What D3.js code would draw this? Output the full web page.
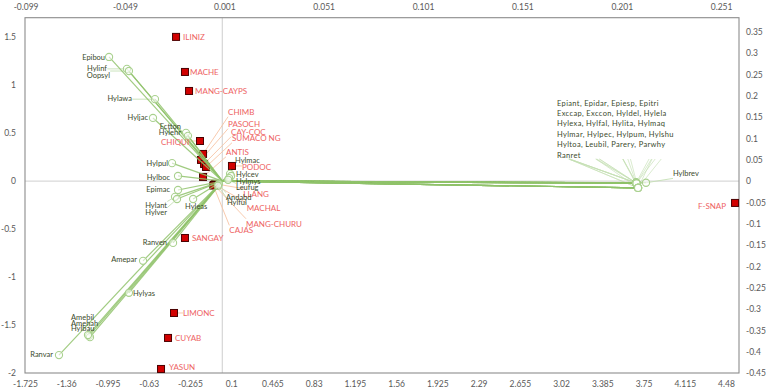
<!DOCTYPE html>
<html><head><meta charset="utf-8">
<script src="https://cdn.jsdelivr.net/npm/d3@7"></script>
<style>body{margin:0;background:#fff}svg{display:block;font-family:Lato,'Open Sans',sans-serif}</style>
</head><body><svg id="c" width="772" height="390"></svg>
<script>
// ---------- tick labels ----------
const bottomTicks = [-1.725,-1.36,-0.995,-0.63,-0.265,0.1,0.465,0.83,1.195,1.56,1.925,2.29,2.655,3.02,3.385,3.75,4.115,4.48];
const topTicks = [-0.099,-0.049,0.001,0.051,0.101,0.151,0.201,0.251];
const leftTicks = [-2,-1.5,-1,-0.5,0,0.5,1,1.5];
const rightTicks = [-0.45,-0.4,-0.35,-0.3,-0.25,-0.2,-0.15,-0.1,-0.05,0,0.05,0.1,0.15,0.2,0.25,0.3,0.35];

// ---------- sites (bottom / left axes) ----------
const siteNames = ["ILINIZ","MACHE","MANG-CAYPS","CHIQUI","CHIMB","PASOCH","CAY-COC","SUMACO NG","ANTIS","PODOC","LLANG","MACHAL","MANG-CHURU","CAJAS","SANGAY","LIMONC","CUYAB","YASUN","F-SNAP"];
const siteX = [-0.388,-0.309,-0.273,-0.176,-0.149,-0.167,-0.140,-0.123,-0.149,0.107,-0.040,-0.046,-0.052,-0.058,-0.309,-0.406,-0.459,-0.521,4.560];
const siteY = [1.50,1.135,0.937,0.416,0.281,0.219,0.177,0.146,0.042,0.156,-0.030,-0.036,-0.042,-0.048,-0.594,-1.375,-1.635,-1.958,-0.229];

// ---------- species (top / right axes) ----------
const speciesNames = ["Epibou","Hylinf","Oopsyl","Hylawa","Hyljac","Ectton","Hylehr","Hylpul","Hylboc","Epimac","Hylant","Hylver","Hyleas","Ranven","Amepar","Hylyas","Amebil","Amehah","Hylbau","Ranvar","Hylmac","Hylcev","Hylmys","Leufug","Andabd","Hylful","Hylbrev",
 "Epiant","Epidar","Epiesp","Epitri","Exccap","Exccon","Hyldel","Hylela","Hylexa","Hylfal","Hylita","Hylmaq","Hylmar","Hylpec","Hylpum","Hylshu","Hyltoa","Leubil","Parery","Parwhy","Ranret"];
const speciesX = [-0.0570,-0.0480,-0.0470,-0.0339,-0.0349,-0.0183,-0.0173,-0.0253,-0.0223,-0.0223,-0.0238,-0.0228,-0.0147,-0.0248,-0.0399,-0.0470,-0.0671,-0.0666,-0.0676,-0.0822,0.0039,0.0044,0.0034,0.0029,-0.0017,-0.0022,0.2132,
 0.2082,0.2082,0.2082,0.2082,0.2082,0.2082,0.2082,0.2084,0.2084,0.2084,0.2084,0.2084,0.2084,0.2084,0.2092,0.2092,0.2092,0.2092,0.2092,0.2092,0.2092];
const speciesY = [0.291,0.263,0.258,0.192,0.148,0.113,0.106,0.042,0.012,-0.021,-0.037,-0.042,-0.042,-0.145,-0.187,-0.262,-0.363,-0.366,-0.361,-0.408,0.017,0.012,0.007,0.003,-0.007,-0.011,-0.004,
 -0.004,-0.004,-0.004,-0.004,-0.004,-0.004,-0.004,-0.005,-0.005,-0.005,-0.005,-0.005,-0.005,-0.005,-0.016,-0.016,-0.016,-0.016,-0.016,-0.016,-0.016];

// ---------- label layout (pixel offsets) ----------
const siteLabelOffset = {"ILINIZ":[7,0],"MACHE":[5,0],"MANG-CAYPS":[6,0],"CHIQUI":[-39,1],"CHIMB":[25,-42],"PASOCH":[27,-36],"CAY-COC":[27,-32],"SUMACO NG":[26,-29],"ANTIS":[23,-25],"PODOC":[10,1],"LLANG":[28,10],"MACHAL":[32,24],"MANG-CHURU":[32,39],"CAJAS":[16,45],"SANGAY":[7,0],"LIMONC":[9,0],"CUYAB":[7,0],"YASUN":[8,-2],"F-SNAP":[-37,3]};
const speciesLabelOffset = {"Epibou":[-4,0,"end"],"Hylinf":[-20,-1,"end"],"Oopsyl":[-19,4,"end"],"Hylawa":[-23,-1,"end"],"Hyljac":[-5,-1,"end"],"Ectton":[-5,-6,"end"],"Hylehr":[-7,-3,"end"],"Hylpul":[-4,0,"end"],"Hylboc":[-8,1,"end"],"Epimac":[-8,-1,"end"],"Hylant":[-8,9,"end"],"Hylver":[-10,13,"end"],"Hyleas":[-8,7,"start"],"Ranven":[-6,-1,"end"],"Amepar":[-6,-1,"end"],"Hylyas":[4,1,"start"],"Amebil":[-18,-19,"start"],"Amehah":[-19,-14,"start"],"Hylbau":[-17,-7,"start"],"Ranvar":[-6,-1,"end"],"Hylmac":[5,-13,"start"],"Hylcev":[5,-2,"start"],"Hylmys":[7,3,"start"],"Leufug":[8,8,"start"],"Andabd":[7,13,"start"],"Hylful":[9,17,"start"],"Hylbrev":[27,-9,"start"]};
const blockOrigin = [557, 103], blockRowGap = 10.4, blockPerRow = 4;

// ---------- scales ----------
const L = 25, R = 739, T = 17.7, B = 373;
const xB = d3.scaleLinear([-1.725, 4.595], [L, R]);
const yL = d3.scaleLinear([-2, 1.7], [B, T]);
const xT = d3.scaleLinear([-0.0993, 0.26], [L, R]);
const yR = d3.scaleLinear([-0.45, 0.383], [B, T]);

const svg = d3.select("#c");
const fmt = d => String(d);
function styleAxis(g){ g.select(".domain").remove(); g.selectAll("text").attr("fill","#595959").attr("font-size",8.5).attr("font-family","Lato, 'Open Sans', sans-serif"); }
svg.append("g").attr("transform",`translate(0,${B})`).call(d3.axisBottom(xB).tickValues(bottomTicks).tickFormat(fmt).tickSize(0).tickPadding(8)).call(styleAxis);
svg.append("g").attr("transform",`translate(0,${T})`).call(d3.axisTop(xT).tickValues(topTicks).tickFormat(fmt).tickSize(0).tickPadding(8)).call(styleAxis);
svg.append("g").attr("transform",`translate(${L},0)`).call(d3.axisLeft(yL).tickValues(leftTicks).tickFormat(fmt).tickSize(0).tickPadding(9)).call(styleAxis);
svg.append("g").attr("transform",`translate(${R},0)`).call(d3.axisRight(yR).tickValues(rightTicks).tickFormat(fmt).tickSize(0).tickPadding(7)).call(styleAxis);

// zero lines
svg.append("line").attr("x1",xT(0)).attr("x2",xT(0)).attr("y1",T).attr("y2",B).attr("stroke","#d9d9d9").attr("stroke-width",1.3);
svg.append("line").attr("x1",L).attr("x2",R).attr("y1",yR(0)).attr("y2",yR(0)).attr("stroke","#d9d9d9").attr("stroke-width",1.3);
// frame
svg.append("rect").attr("x",L).attr("y",T).attr("width",R-L).attr("height",B-T).attr("fill","none").attr("stroke","#8c8c8c").attr("stroke-width",1.1);

const species = speciesNames.map((n,i)=>({name:n, px:xT(speciesX[i]), py:yR(speciesY[i])}));
const sites = siteNames.map((n,i)=>({name:n, px:xB(siteX[i]), py:yL(siteY[i])}));
const ox = xT(0), oy = yR(0);

const gLead = svg.append("g");
const gSites = svg.append("g");
// species vectors
svg.append("g").selectAll("line").data(species).join("line")
  .attr("x1",ox).attr("y1",oy).attr("x2",d=>d.px).attr("y2",d=>d.py)
  .attr("stroke","#8fc26a").attr("stroke-width",1.2).attr("stroke-opacity",0.85);

function nearest(b,p){ return [Math.max(b.x,Math.min(p[0],b.x+b.width)), Math.max(b.y,Math.min(p[1],b.y+b.height))]; }

// site squares
gSites.selectAll("rect").data(sites).join("rect")
  .attr("x",d=>d.px-3.5).attr("y",d=>d.py-3.5).attr("width",7).attr("height",7)
  .attr("fill","#d10000").attr("stroke","#4a0000").attr("stroke-width",1);

// species circles
svg.append("g").selectAll("circle").data(species).join("circle")
  .attr("cx",d=>d.px).attr("cy",d=>d.py).attr("r",3.6)
  .attr("fill","#ffffff").attr("fill-opacity",0.55).attr("stroke","#a9d18e").attr("stroke-width",1.1);

// site labels
const gSiteLab = svg.append("g").attr("font-size",8).attr("fill","#ee6363");
sites.forEach(s=>{
  const o = siteLabelOffset[s.name];
  const t = gSiteLab.append("text").attr("x",s.px+o[0]).attr("y",s.py+o[1]).attr("dy","0.35em").text(s.name);
  const b = t.node().getBBox();
  const q = nearest(b,[s.px,s.py]);
  if (Math.hypot(q[0]-s.px,q[1]-s.py) > 9)
    gLead.append("line").attr("x1",q[0]).attr("y1",q[1]).attr("x2",s.px).attr("y2",s.py).attr("stroke","#f7c4a5").attr("stroke-width",0.9);
});

// species labels
const gSpLab = svg.append("g").attr("font-size",7.5).attr("fill","#3b4a2c");
species.forEach(s=>{
  const o = speciesLabelOffset[s.name];
  if (!o) return;
  const t = gSpLab.append("text").attr("x",s.px+o[0]).attr("y",s.py+o[1]).attr("dy","0.35em").attr("text-anchor",o[2]).text(s.name);
  const b = t.node().getBBox();
  const q = nearest(b,[s.px,s.py]);
  if (Math.hypot(q[0]-s.px,q[1]-s.py) > 8)
    gLead.append("line").attr("x1",q[0]).attr("y1",q[1]).attr("x2",s.px).attr("y2",s.py).attr("stroke","#c5e0b4").attr("stroke-width",0.9);
});

// right-hand block of stacked labels
const block = species.filter(s=>!speciesLabelOffset[s.name]);
const rows = d3.range(Math.ceil(block.length/blockPerRow)).map(r=>block.slice(r*blockPerRow,(r+1)*blockPerRow));
const blockBottom = blockOrigin[1] + (rows.length-1)*blockRowGap + 4;
rows.forEach((row,r)=>{
  const str = row.map(s=>s.name).join(", ");
  const y = blockOrigin[1] + r*blockRowGap;
  const t = gSpLab.append("text").attr("x",blockOrigin[0]).attr("y",y).attr("dy","0.35em").attr("letter-spacing",0.35).text(str);
  let idx = 0;
  row.forEach(s=>{
    const pre = idx>0 ? t.node().getSubStringLength(0, idx) : 0;
    const w = t.node().getSubStringLength(idx, s.name.length);
    idx += s.name.length + 2;
    const x0 = blockOrigin[0] + pre + w/2;
    gLead.append("line").attr("x1",x0).attr("y1",blockBottom).attr("x2",s.px).attr("y2",s.py).attr("stroke","#c5e0b4").attr("stroke-width",0.8).attr("stroke-opacity",0.8);
  });
});
</script></body></html>
